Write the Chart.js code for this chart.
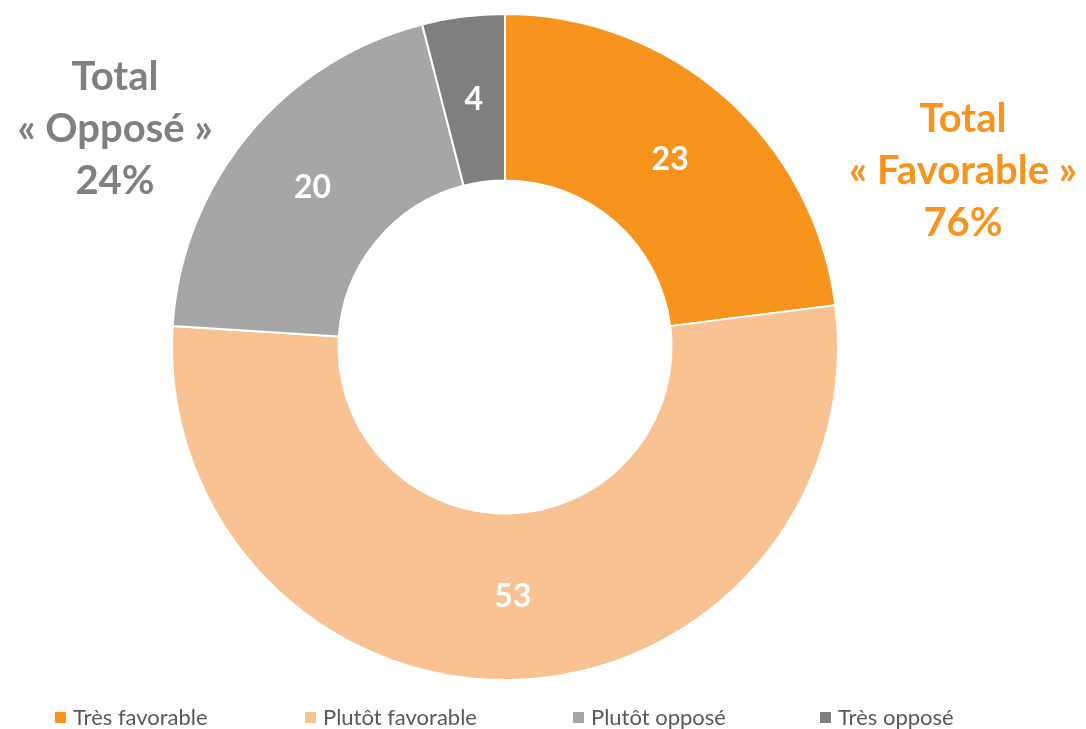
<!DOCTYPE html>
<html>
<head>
<meta charset="utf-8">
<script src="https://cdn.jsdelivr.net/npm/chart.js@4.4.1/dist/chart.umd.min.js"></script>
<style>
  html, body { margin: 0; padding: 0; background: #fff; }
  #wrap { width: 1086px; height: 729px; }
</style>
</head>
<body>
<div id="wrap"><canvas id="myChart" width="1086" height="729"></canvas></div>
<script>
// data
const categories = ['Très favorable', 'Plutôt favorable', 'Plutôt opposé', 'Très opposé'];
const values = [23, 53, 20, 4];
const colors = ['#F7941D', '#F9C292', '#A6A6A6', '#7F7F7F'];
const totalFavorable = ['Total', '« Favorable »', '76%'];
const totalOppose = ['Total', '« Opposé »', '24%'];

const FONT = 'Lato, "Open Sans", sans-serif';

// value labels + totals + legend drawn after the doughnut
const extras = {
    id: 'extras',
    afterDraw(chart) {
        const ctx = chart.ctx;
        const meta = chart.getDatasetMeta(0);
        ctx.save();

        // values in the slices
        ctx.fillStyle = '#ffffff';
        ctx.font = 'bold 32px ' + FONT;
        ctx.textAlign = 'center';
        ctx.textBaseline = 'middle';
        meta.data.forEach((arc, i) => {
            const p = arc.tooltipPosition();
            ctx.fillText(String(values[i]), p.x, p.y);
        });

        // totals
        ctx.font = 'bold 40px ' + FONT;
        ctx.fillStyle = '#808080';
        totalOppose.forEach((t, i) => ctx.fillText(t, 115, 77 + i * 52));
        ctx.fillStyle = '#F7941D';
        totalFavorable.forEach((t, i) => ctx.fillText(t, 963, 119 + i * 52));

        // legend
        const legendX = [55, 305, 573, 820];
        ctx.font = '22px ' + FONT;
        ctx.textAlign = 'left';
        categories.forEach((c, i) => {
            ctx.fillStyle = colors[i];
            ctx.fillRect(legendX[i], 712, 11, 11);
            ctx.fillStyle = '#595959';
            ctx.fillText(c, legendX[i] + 18, 718);
        });
        ctx.restore();
    }
};

const ctx = document.getElementById('myChart').getContext('2d');
const chart = new Chart(ctx, {
    type: 'doughnut',
    data: {
        labels: categories,
        datasets: [{
            data: values,
            backgroundColor: colors,
            borderColor: '#ffffff',
            borderWidth: 2
        }]
    },
    options: {
        responsive: false,
        animation: false,
        cutout: '50%',
        layout: { padding: { top: 13, bottom: 48, left: 0, right: 76 } },
        plugins: {
            legend: { display: false },
            tooltip: { enabled: false }
        }
    },
    plugins: [extras]
});
</script>
</body>
</html>
